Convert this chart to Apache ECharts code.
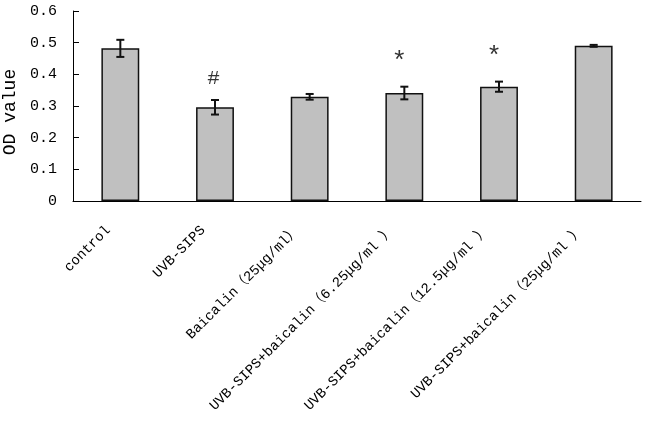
<!DOCTYPE html>
<html><head><meta charset="utf-8">
<script src="https://cdn.jsdelivr.net/npm/echarts@6/dist/echarts.min.js"></script>
<style>html,body{margin:0;padding:0;background:#fff}#c{width:648px;height:421px}</style>
</head><body><div id="c"></div>
<script>
var categories = ["control", "UVB-SIPS", "Baicalin（25μg/ml）", "UVB-SIPS+baicalin（6.25μg/ml ）", "UVB-SIPS+baicalin（12.5μg/ml ）", "UVB-SIPS+baicalin（25μg/ml ）"];
var values = [0.482, 0.296, 0.329, 0.341, 0.361, 0.490];
var errors = [0.027, 0.023, 0.009, 0.020, 0.016, 0.003];
var marks = ["", "#", "", "*", "*", ""];
var yTicks = [0, 0.1, 0.2, 0.3, 0.4, 0.5, 0.6];

var errData = values.map(function (v, i) { return [i, v - errors[i], v + errors[i], marks[i]]; });
var font = "'Liberation Mono', 'Noto Sans CJK SC', monospace";

var chart = echarts.init(document.getElementById('c'), null, {renderer: 'canvas'});
chart.setOption({
  animation: false,
  grid: {left: 73, right: 7, top: 11, bottom: 220, containLabel: false, outerBoundsMode: 'none'},
  xAxis: {
    type: 'category', data: categories,
    axisLine: {lineStyle: {color: '#000', width: 1}},
    axisTick: {inside: true, length: 5, lineStyle: {color: '#000'}},
    axisLabel: {rotate: 45, interval: 0, color: '#000', fontFamily: font, fontSize: 14, margin: 15,
      padding: [0, 17, 0, 0]}
  },
  yAxis: {
    type: 'value', min: 0, max: 0.6, interval: 0.1,
    name: 'OD value', nameLocation: 'middle', nameGap: 50, nameRotate: 90,
    nameTextStyle: {color: '#000', fontFamily: font, fontSize: 18, padding: [0, 12, 0, 0]},
    splitLine: {show: false},
    axisLine: {show: true, lineStyle: {color: '#000', width: 1}},
    axisTick: {show: true, inside: true, length: 6, lineStyle: {color: '#000'}},
    axisLabel: {color: '#000', fontFamily: font, fontSize: 15, margin: 16,
      formatter: function (v) { return yTicks.indexOf(v) >= 0 ? (v === 0 ? '0' : v.toFixed(1)) : ''; }}
  },
  series: [{
    type: 'bar', data: values, barWidth: '40%',
    itemStyle: {color: '#c0c0c0', borderColor: '#111', borderWidth: 1.5}
  }, {
    type: 'custom', data: errData, z: 10,
    renderItem: function (params, api) {
      var x = api.value(0);
      var lo = api.coord([x, api.value(1)]);
      var hi = api.coord([x, api.value(2)]);
      var cx = lo[0], w = 4;
      var st = {stroke: '#111', lineWidth: 2};
      var children = [
        {type: 'line', shape: {x1: cx, y1: lo[1], x2: cx, y2: hi[1]}, style: st},
        {type: 'line', shape: {x1: cx - w, y1: lo[1], x2: cx + w, y2: lo[1]}, style: st},
        {type: 'line', shape: {x1: cx - w, y1: hi[1], x2: cx + w, y2: hi[1]}, style: st}
      ];
      var m = api.value(3);
      if (m) {
        var star = m === '*';
        children.push({type: 'text', style: {text: m, x: cx + (star ? -5 : -1.5), y: hi[1] - (star ? 25 : 22),
          align: 'center', verticalAlign: 'middle', fill: '#333',
          font: (star ? '26px ' : '21px ') + "'Liberation Mono', monospace"}});
      }
      return {type: 'group', children: children};
    }
  }]
});
</script></body></html>
